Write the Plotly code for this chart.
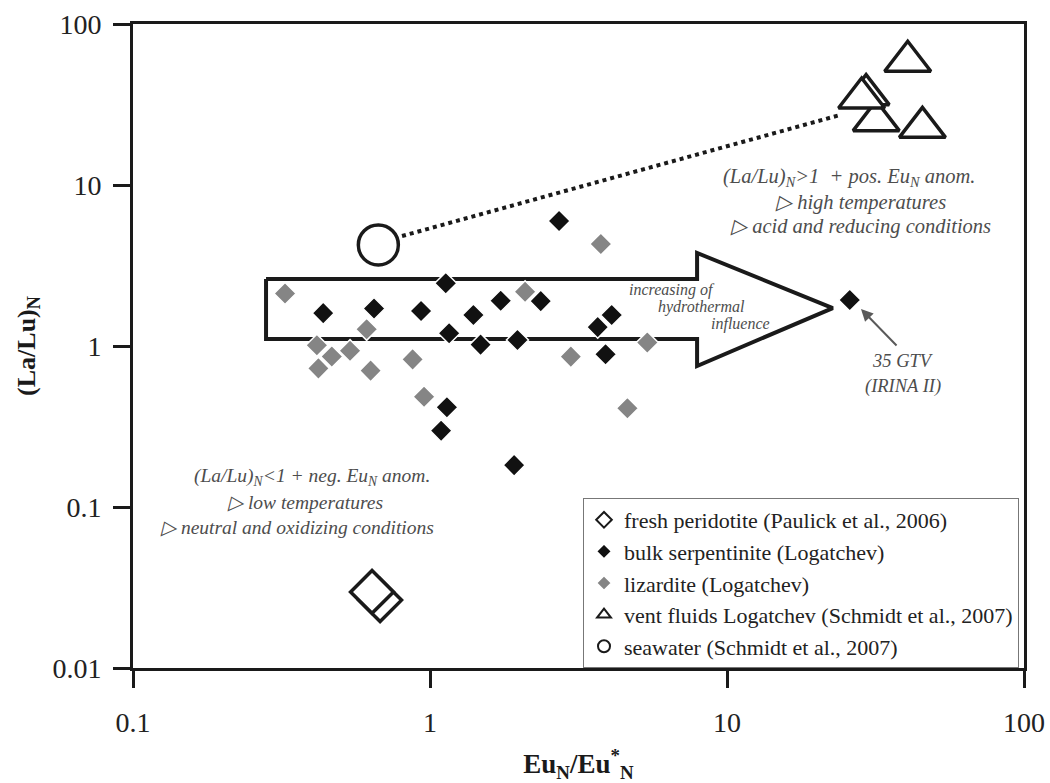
import plotly.graph_objects as go

# ---------------- data ----------------
fresh_x = [0.679, 0.638]
fresh_y = [0.0264, 0.0297]

serp_x = [1.13, 0.437, 0.648, 0.933, 1.40, 1.73, 2.36, 1.16, 1.48, 1.97, 4.09, 3.67, 3.90, 1.14, 1.09, 1.92, 2.72, 25.9]
serp_y = [2.45, 1.60, 1.71, 1.65, 1.56, 1.91, 1.90, 1.20, 1.02, 1.09, 1.56, 1.31, 0.888, 0.416, 0.298, 0.182, 5.98, 1.93]

liz_x = [0.325, 0.612, 0.416, 0.467, 0.538, 0.421, 0.631, 0.874, 0.955, 2.09, 2.98, 5.39, 4.62, 3.76]
liz_y = [2.12, 1.27, 1.01, 0.86, 0.935, 0.726, 0.703, 0.826, 0.484, 2.17, 0.859, 1.05, 0.41, 4.30]

vent_x = [40.6, 45.5, 31.8, 29.4, 28.4]
vent_y = [58.7, 22.8, 25.1, 36.4, 34.7]

sea_x = [0.67]
sea_y = [4.24]

# guide shapes (data space)
arrow_x = [0.2805, 7.93, 7.93, 22.7, 7.93, 7.93, 0.2805, 0.2805]
arrow_y = [2.61, 2.61, 3.78, 1.72, 0.751, 1.105, 1.105, 2.61]
link_x = [0.805, 24.0]
link_y = [4.82, 27.2]

x_ticks = [0.1, 1, 10, 100]
x_labels = ["0.1", "1", "10", "100"]
y_ticks = [0.01, 0.1, 1, 10, 100]
y_labels = ["0.01", "0.1", "1", "10", "100"]

SERIF = "Liberation Serif, Times New Roman, serif"
INK = "#1a1a1a"
NOTE = "#4d4d4d"

fig = go.Figure()

# arrow outline and seawater-vent link
fig.add_trace(go.Scatter(x=arrow_x, y=arrow_y, mode="lines",
                         line=dict(color=INK, width=4), showlegend=False, hoverinfo="skip"))
fig.add_trace(go.Scatter(x=link_x, y=link_y, mode="lines",
                         line=dict(color=INK, width=4, dash="dot"), showlegend=False, hoverinfo="skip"))

fig.add_trace(go.Scatter(x=liz_x, y=liz_y, mode="markers", name="lizardite (Logatchev)",
                         legendrank=3,
                         marker=dict(symbol="diamond", size=17, color="#858585",
                                     line=dict(color="white", width=1.5))))
fig.add_trace(go.Scatter(x=serp_x, y=serp_y, mode="markers", name="bulk serpentinite (Logatchev)",
                         legendrank=2,
                         marker=dict(symbol="diamond", size=17, color="#111111",
                                     line=dict(color="white", width=1.5))))
fig.add_trace(go.Scatter(x=fresh_x, y=fresh_y, mode="markers", name="fresh peridotite (Paulick et al., 2006)",
                         legendrank=1,
                         marker=dict(symbol="diamond", size=33, color="white",
                                     line=dict(color=INK, width=3.5))))
fig.add_trace(go.Scatter(x=vent_x, y=vent_y, mode="markers",
                         name="vent fluids Logatchev (Schmidt et al., 2007)",
                         legendrank=4,
                         marker=dict(symbol="triangle-up", size=40, color="white",
                                     line=dict(color=INK, width=3.5))))
fig.add_trace(go.Scatter(x=sea_x, y=sea_y, mode="markers", name="seawater (Schmidt et al., 2007)",
                         legendrank=5,
                         marker=dict(symbol="circle", size=40, color="white",
                                     line=dict(color=INK, width=3.5))))

L, R, T, B = 133, 1024, 24, 668


def px(x, y):
    return (x - L) / (R - L), (B - y) / (B - T)


notes = [
    ("<i>(La/Lu)<sub>N</sub>&gt;1  + pos. Eu<sub>N</sub> anom.</i>", 849, 178, 20.5),
    ("<i>▷ high temperatures</i>", 860, 202, 20.5),
    ("<i>▷ acid and reducing conditions</i>", 860, 226, 20.5),
    ("<i>(La/Lu)<sub>N</sub>&lt;1 + neg. Eu<sub>N</sub> anom.</i>", 312, 477, 19.5),
    ("<i>▷ low temperatures</i>", 305, 502, 19.5),
    ("<i>▷ neutral and oxidizing conditions</i>", 297, 527, 19.5),
    ("<i>increasing of</i>", 672, 290, 16),
    ("<i>hydrothermal</i>", 701, 307, 16),
    ("<i>influence</i>", 740, 324, 16),
    ("<i>35 GTV</i>", 903, 361, 18.5),
    ("<i>(IRINA II)</i>", 903, 386, 18.5),
]
annotations = []
for txt, x, y, s in notes:
    xp, yp = px(x, y)
    annotations.append(dict(text=txt, x=xp, y=yp, xref="paper", yref="paper",
                            showarrow=False, xanchor="center", yanchor="middle",
                            font=dict(family=SERIF, size=s, color=NOTE)))
hx, hy = px(861, 309)
annotations.append(dict(text="", x=hx, y=hy, xref="paper", yref="paper",
                        showarrow=True, ax=37, ay=38, arrowhead=2, arrowsize=1.2,
                        arrowwidth=2, arrowcolor="#5a5a5a"))

axis_common = dict(type="log", showgrid=False, zeroline=False, showline=True,
                   linewidth=3, linecolor=INK, mirror=True, ticks="outside",
                   ticklen=17, tickwidth=3, tickcolor=INK, automargin=False,
                   tickfont=dict(family=SERIF, size=28, color="#222"))

fig.update_layout(
    width=1050, height=783,
    margin=dict(l=L, r=1050 - R, t=T, b=783 - B, autoexpand=False),
    paper_bgcolor="white", plot_bgcolor="white",
    xaxis=dict(range=[-1, 2], tickvals=x_ticks, ticktext=x_labels,
               ticklabelstandoff=10,
               title=dict(text="<b>Eu<sub>N</sub>/Eu<sup>*</sup><sub>N</sub></b>",
                          font=dict(family=SERIF, size=27, color=INK), standoff=19),
               **axis_common),
    yaxis=dict(range=[-2, 2], tickvals=y_ticks, ticktext=y_labels,
               ticklabelstandoff=6,
               title=dict(text="<b>(La/Lu)<sub>N</sub></b>",
                          font=dict(family=SERIF, size=26, color=INK), standoff=10),
               **axis_common),
    legend=dict(x=(583 - L) / (R - L), y=0, xanchor="left", yanchor="bottom",
                bgcolor="white", bordercolor="#777", borderwidth=1,
                font=dict(family=SERIF, size=22, color="#222"),
                itemsizing="constant", itemwidth=30, tracegroupgap=0),
    annotations=annotations,
    showlegend=True,
)

fig.write_html("out.html", post_script="document.body.style.margin='0';",
               config={"displayModeBar": False})
